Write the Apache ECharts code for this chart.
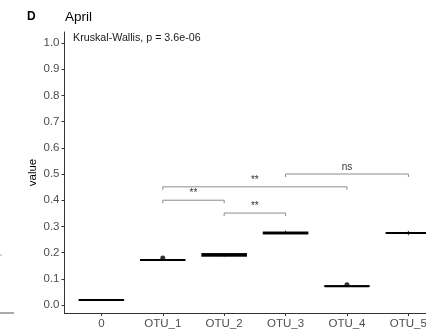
<!DOCTYPE html>
<html>
<head>
<meta charset="utf-8">
<script src="https://cdn.jsdelivr.net/npm/echarts@6/dist/echarts.min.js"></script>
<style>html,body{margin:0;padding:0;background:#fff}#c{width:426px;height:334px}</style>
</head>
<body>
<div id="c"></div>
<script>
// ---- data ----
var categories = ['0', 'OTU_1', 'OTU_2', 'OTU_3', 'OTU_4', 'OTU_5'];
// [min, q1, median, q3, max]
var boxStats = [
  [0.019, 0.019, 0.019, 0.020, 0.020],
  [0.171, 0.171, 0.172, 0.173, 0.173],
  [0.184, 0.187, 0.191, 0.196, 0.196],
  [0.272, 0.272, 0.275, 0.278, 0.284],
  [0.071, 0.071, 0.072, 0.073, 0.073],
  [0.266, 0.274, 0.275, 0.276, 0.283]
];
var outliers = [[1, 0.179], [4, 0.077]];
// [from index, to index, y, label]
var comparisons = [
  [1, 2, 0.400, '**'],
  [2, 3, 0.351, '**'],
  [1, 4, 0.451, '**'],
  [3, 5, 0.500, 'ns']
];
var yTicks = [0, 0.1, 0.2, 0.3, 0.4, 0.5, 0.6, 0.7, 0.8, 0.9, 1.0];
var xTicks = [0, 1, 2, 3, 4, 5];
var testLabel = 'Kruskal-Wallis, p = 3.6e-06';

var FONT = '"Liberation Sans", Arial, sans-serif';
var chart = echarts.init(document.getElementById('c'), null, {renderer: 'canvas'});

var boxData = boxStats.map(function (s, i) { return [i].concat(s); });
var bracketData = comparisons.map(function (c) { return c; });

var option = {
  animation: false,
  backgroundColor: '#fff',
  grid: {left: 64.5, top: 32, right: 0, height: 281, containLabel: false, outerBoundsMode: 'none'},
  title: [
    {text: 'D', left: 27, top: 11, padding: 0, textStyle: {fontFamily: FONT, fontSize: 12, fontWeight: 'bold', color: '#000'}},
    {text: 'April', left: 65, top: 10, padding: 0, textStyle: {fontFamily: FONT, fontSize: 13.5, fontWeight: 'normal', color: '#000'}},
    {text: testLabel, left: 73, top: 33, padding: 0, textStyle: {fontFamily: FONT, fontSize: 10.7, fontWeight: 'normal', color: '#1a1a1a'}}
  ],
  xAxis: {
    type: 'value', min: -0.6, max: 5.287,
    splitLine: {show: false},
    axisLine: {show: true, onZero: false, lineStyle: {color: '#333', width: 1}},
    axisTick: {show: true, length: 3, lineStyle: {color: '#333'}, customValues: xTicks},
    axisLabel: {customValues: xTicks, formatter: function (v) { return categories[Math.round(v)]; },
      fontFamily: FONT, fontSize: 11.5, color: '#4d4d4d', margin: 5, hideOverlap: false}
  },
  yAxis: {
    type: 'value', min: -0.0305, max: 1.042,
    name: 'value', nameLocation: 'middle', nameRotate: 90, nameGap: 26, nameMoveOverlap: false,
    nameTextStyle: {fontFamily: FONT, fontSize: 11.5, color: '#000', verticalAlign: 'bottom'},
    splitLine: {show: false},
    axisLine: {show: true, onZero: false, lineStyle: {color: '#333', width: 1}},
    axisTick: {show: true, length: 3, lineStyle: {color: '#333'}, customValues: yTicks},
    axisLabel: {customValues: yTicks, formatter: function (v) { return v.toFixed(1); },
      fontFamily: FONT, fontSize: 11.5, color: '#4d4d4d', margin: 5}
  },
  series: [
    {
      type: 'custom',
      data: boxData,
      renderItem: function (params, api) {
        var x = api.value(0);
        var hw = 0.36;
        var mn = api.coord([x, api.value(1)]);
        var q1 = api.coord([x - hw, api.value(2)]);
        var md = api.value(3);
        var q3 = api.coord([x + hw, api.value(4)]);
        var mx = api.coord([x, api.value(5)]);
        var c = api.coord([x, md]);
        var left = q1[0], right = q3[0];
        return {
          type: 'group',
          children: [
            {type: 'line', shape: {x1: mn[0], y1: mn[1], x2: mn[0], y2: q1[1]}, style: {stroke: '#333', lineWidth: 1}},
            {type: 'line', shape: {x1: mx[0], y1: mx[1], x2: mx[0], y2: q3[1]}, style: {stroke: '#333', lineWidth: 1}},
            {type: 'rect', shape: {x: left, y: q3[1], width: right - left, height: Math.max(q1[1] - q3[1], 0.5)},
              style: {fill: '#fff', stroke: '#111', lineWidth: 1.4}},
            {type: 'line', shape: {x1: left, y1: c[1], x2: right, y2: c[1]}, style: {stroke: '#000', lineWidth: 2}}
          ]
        };
      },
      z: 2
    },
    {
      type: 'scatter', data: outliers, symbolSize: 5,
      itemStyle: {color: '#000'}, z: 3
    },
    {
      type: 'custom',
      data: bracketData,
      renderItem: function (params, api) {
        var a = api.coord([api.value(0), api.value(2)]);
        var b = api.coord([api.value(1), api.value(2)]);
        var tip = 3;
        var label = comparisons[params.dataIndex][3];
        return {
          type: 'group',
          children: [
            {type: 'polyline', shape: {points: [[a[0], a[1] + tip], [a[0], a[1]], [b[0], b[1]], [b[0], b[1] + tip]]},
              style: {stroke: '#8c8c8c', lineWidth: 1, fill: null}},
            {type: 'text', style: {text: label, x: (a[0] + b[0]) / 2, y: a[1] - 2, align: 'center', verticalAlign: 'bottom',
              font: '10px ' + FONT, fill: '#333'}}
          ]
        };
      },
      z: 4
    }
  ],
  graphic: [
    {type: 'line', shape: {x1: 0, y1: 313, x2: 14, y2: 313}, style: {stroke: '#555', lineWidth: 1}},
    {type: 'line', shape: {x1: 0, y1: 255, x2: 2, y2: 255}, style: {stroke: '#aaa', lineWidth: 1}}
  ]
};
chart.setOption(option);
</script>
</body>
</html>
